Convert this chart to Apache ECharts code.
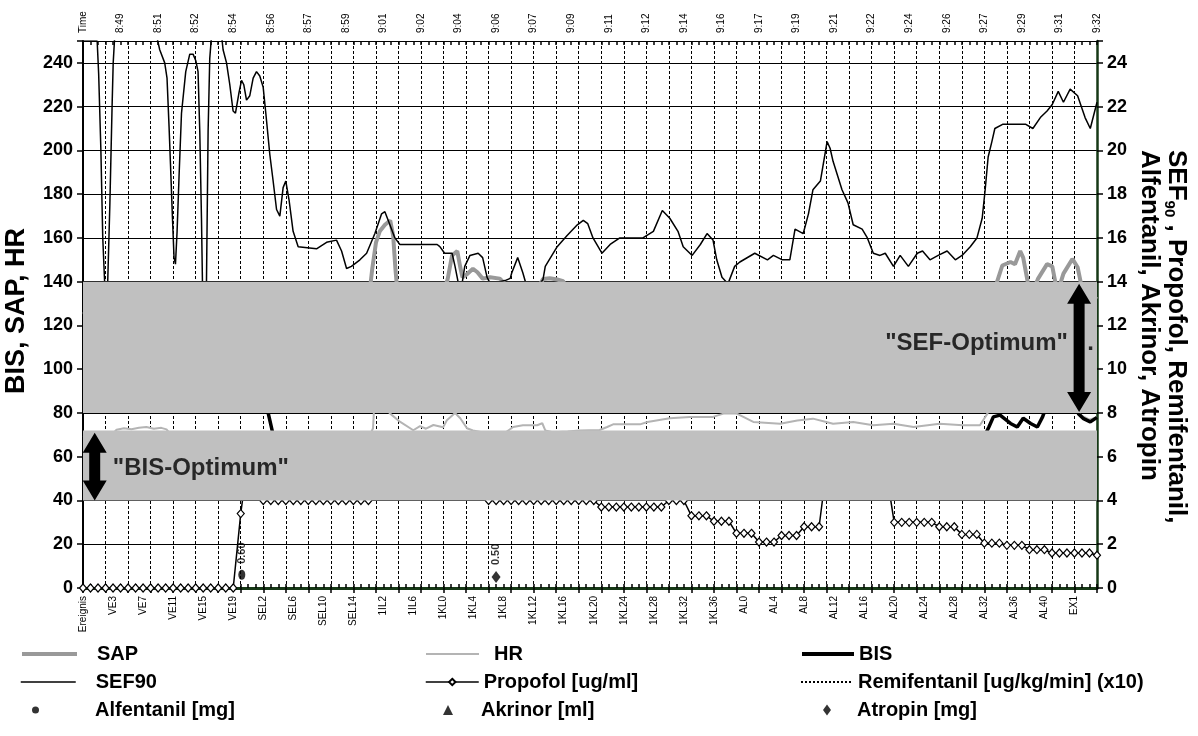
<!DOCTYPE html>
<html><head><meta charset="utf-8">
<script src="https://cdn.jsdelivr.net/npm/echarts@6/dist/echarts.min.js"></script>
<style>html,body{margin:0;padding:0;background:#fff}#c{width:1198px;height:736px}</style>
</head><body><div id="c"></div>
<script>
const FONT = '"Liberation Sans", Arial, sans-serif';

// ---- category labels ----
const eventSegments = [['Ereignis', 1], ['VE', 21], ['SEL', 16], ['1IL', 10], ['1KL', 40], ['AL', 43], ['EX', 5]];
const timeLabels = ['Time','8:49','8:51','8:52','8:54','8:56','8:57','8:59','9:01','9:02','9:04','9:06','9:07','9:09','9:11','9:12','9:14','9:16','9:17','9:19','9:21','9:22','9:24','9:26','9:27','9:29','9:31','9:32'];

// ---- series values (x = time position, 0 = start, 136 = end of record) ----
const sap = [[0,125],[5,130],[10,128],[15,122],[20,118],[25,112],[30,108],[35,115],[38.0,128],[38.5,137],[38.8,146],[39.3,158],[39.8,163],[40.5,166],[41.2,168],[41.6,161],[41.9,146],[42.3,130],[44,120],[47,126],[48.4,136],[48.9,141],[49.5,152],[50.2,154],[50.6,146.6],[50.9,142],[51.6,143.7],[52.3,145.9],[52.9,144.3],[53.6,141.4],[54.6,142],[55.9,141.4],[56.6,139],[57.5,132],[60,133],[61.2,138],[61.7,141.2],[62.6,141.6],[63.6,141],[64.4,140.2],[65,136],[70,125],[80,122],[90,118],[100,120],[110,118],[118,122],[122,134],[122.6,140],[123.3,147.4],[124.4,149],[125.0,148],[125.7,154],[126.1,151],[126.7,140],[127.1,135],[127.7,138],[128.1,141.4],[129.3,148],[130.0,147],[130.4,140],[130.8,136],[131.5,143.7],[132.7,150.4],[133.4,146.6],[133.8,140],[134.4,135],[136,132]];
const hr = [[0,69],[4,70.5],[4.5,72.3],[5.5,73],[6.5,72.6],[7.5,73.2],[8.5,73.6],[9.5,72.8],[10.5,73.2],[11.2,72.5],[11.8,70],[15,68],[20,69],[25,67],[30,68],[35,69],[38.5,70],[38.9,73],[39.1,86],[40,84],[41.2,79.7],[42.5,76],[44.3,72.1],[45.2,74],[46,72.8],[47,74.5],[48.3,73.5],[48.8,76.7],[49.9,80],[50.6,77.6],[51.5,73],[52.3,72],[53.5,71.2],[55,70.8],[56.8,71.4],[57.7,73.6],[59.0,74.4],[60.9,74.4],[61.6,75.3],[62.0,72],[63,71.2],[65,71.5],[66.6,72],[69.3,72.2],[70.3,73.6],[71.1,74.8],[74.7,74.8],[75.7,75.9],[78.7,77.6],[81.4,78.2],[84.5,78.2],[85.9,79.7],[87.7,79.7],[89.9,75.9],[93.5,75.1],[95.8,76.6],[97.9,77.4],[100.6,75.1],[103.3,75.9],[106,74.4],[108.7,75.1],[111.4,73.6],[114.9,75.1],[118,74.4],[120.3,74.4],[121.3,79.7],[122,86],[126,88],[130,90],[133,85],[133.8,79],[135,77],[136,78]];
const bis = [[0,97],[5,96],[10,97],[15,95],[20,94],[23,92],[24.3,88],[24.7,82],[25.1,76],[25.5,70],[26.5,62],[30,58],[40,55],[50,52],[60,50],[70,48],[80,50],[90,47],[100,52],[110,48],[118,52],[120.5,62],[121.0,70],[121.5,73.6],[122.1,78.2],[123.0,79],[124.4,75.2],[125.3,73.6],[126.1,77.6],[127.1,75.2],[128.0,73.6],[128.7,78.2],[129.1,82],[130,90],[132,92],[133.2,84],[133.5,79.7],[134.2,77.4],[135.1,75.9],[136,78]];
const sef90 = [[0,25.0],[1.9,25.0],[2.1,23.5],[2.4,20.0],[2.65,16.0],[2.9,14.0],[3.1,11.0],[3.3,13.8],[3.6,17.5],[3.9,22.0],[4.05,24.0],[4.3,25.5],[5,27],[9.5,27],[9.89,25.2],[10.29,24.6],[10.96,24.0],[11.27,23.3],[11.54,21.1],[11.73,19.4],[12.0,16.9],[12.21,15.1],[12.4,14.8],[12.62,16.3],[12.88,18.8],[13.21,21.7],[13.78,23.6],[14.32,24.4],[14.76,24.4],[15.13,24.1],[15.43,23.6],[15.66,20.9],[15.89,16.9],[16.02,14.0],[16.2,12.0],[16.56,14.0],[16.78,20.9],[17.0,24.2],[17.23,25.2],[17.4,25.3],[18.6,25.2],[18.79,24.6],[19.25,24.0],[19.69,23.0],[20.13,21.8],[20.45,21.7],[20.9,22.6],[21.26,23.2],[21.57,23.0],[21.93,22.3],[22.37,22.5],[22.82,23.3],[23.27,23.6],[23.71,23.4],[24.16,22.9],[24.52,21.7],[25.06,19.8],[25.5,18.6],[25.96,17.3],[26.4,17.0],[26.84,18.3],[27.2,18.6],[27.65,17.7],[28.18,16.3],[28.86,15.6],[31.32,15.5],[32.67,15.8],[34.0,15.9],[34.68,15.4],[35.35,14.6],[36.0,14.7],[37.14,15.0],[38.04,15.3],[39.15,16.2],[40.05,17.1],[40.49,17.2],[41.16,16.6],[41.83,16.0],[42.5,15.7],[47.5,15.7],[47.86,15.6],[48.5,15.3],[49.5,15.3],[49.9,14.7],[50.3,14.0],[50.7,13.6],[51.2,14.7],[51.9,15.2],[53.0,15.3],[53.6,15.1],[54.2,14.2],[54.8,13.8],[55.9,14.0],[56.6,14.05],[57.3,14.15],[57.5,14.4],[58.3,15.1],[59.0,14.4],[59.5,13.8],[60.6,13.6],[61.7,14.1],[62.0,14.7],[63.6,15.6],[64.9,16.1],[66.3,16.6],[67.1,16.8],[67.7,16.65],[68.4,16.0],[69.6,15.3],[70.7,15.7],[72.0,16.0],[75.1,16.0],[76.5,16.3],[77.7,17.25],[78.7,16.9],[79.8,16.3],[80.5,15.6],[81.7,15.2],[82.8,15.7],[83.7,16.2],[84.5,15.9],[85.0,15.0],[85.7,14.2],[86.5,13.9],[87.4,14.7],[88.1,14.9],[90.1,15.3],[91.8,15.0],[92.6,15.2],[93.8,15.0],[94.8,15.0],[95.5,16.4],[96.6,16.2],[97.3,17.1],[97.9,18.2],[98.9,18.6],[99.6,20.0],[99.8,20.4],[100.2,20.1],[100.6,19.5],[101.8,18.2],[102.6,17.6],[103.3,16.6],[104.5,16.4],[105.2,16.0],[106.0,15.3],[106.9,15.2],[107.6,15.3],[108.7,14.7],[109.6,15.2],[110.7,14.7],[111.9,15.3],[112.6,15.4],[113.6,15.0],[114.7,15.2],[115.9,15.4],[117.0,15.0],[117.9,15.2],[119.0,15.6],[119.9,16.0],[120.6,16.9],[121.0,18.2],[121.4,19.7],[121.9,20.4],[122.3,21.0],[123.4,21.2],[125.0,21.2],[126.4,21.2],[127.4,21.0],[128.4,21.5],[129.3,21.8],[130.0,22.1],[130.8,22.7],[131.5,22.2],[132.4,22.8],[133.4,22.5],[134.4,21.5],[135.1,21.0],[136,22.2]];
// propofol: one value per event sample (136)
const propofol = [0,0,0,0,0,0,0,0,0,0,0,0,0,0,0,0,0,0,0,0,0,
  3.4,6.0,5.0,
  4,4,4,4,4,4,4,4,4,4,4,4,4,4,4,
  5,5,5,5,5,5,5,5,5,5,5,5,5,5,5,
  4,4,4,4,4,4,4,4,4,4,4,4,4,4,4,
  3.7,3.7,3.7,3.7,3.7,3.7,3.7,3.7,3.7,
  4,4,4, 3.3,3.3,3.3, 3.05,3.05,3.05, 2.5,2.5,2.5, 2.1,2.1,2.1, 2.4,2.4,2.4, 2.8,2.8,2.8,
  5.5,5.8,6,6,5.8,5.6,5.5,5.4,5.2,
  3,3,3,3,3,3, 2.8,2.8,2.8, 2.45,2.45,2.45, 2.05,2.05,2.05, 1.95,1.95,1.95, 1.75,1.75,1.75,
  1.6,1.6,1.6,1.6,1.6,1.6, 1.5];
const remifentanil = [];
const alfentanil = [[21.3, 0.6]];
const akrinor = [];
const atropin = [[55.4, 0.5]];

// optimum bands (left axis units) and arrows
const bandLow = [40, 80];
const bandHigh = [72, 140];
const arrowT = [1.57, 133.6];
const arrowTop = [71.0, 139.0];
const arrowBottom = [40.0, 80.4];
const annotText = ['"BIS-Optimum"', '"SEF-Optimum"', '.'];
const annotT = [4.0, 132.1, 134.7];
const annotV = [54.5, 112, 112];
const annotSide = ['right', 'left', 'right'];

const events = [];
eventSegments.forEach(([p, n]) => { for (let k = 0; k < n; k++) events.push(p === 'Ereignis' ? p : p + k); });
const times = events.map((e, i) => (i % 5 === 0 && timeLabels[i / 5]) ? timeLabels[i / 5] : '');

const chart = echarts.init(document.getElementById('c'), null, {renderer: 'canvas'});
const GREEN = '#163816';

// legend cells: name, icon left, icon size, text start, row, line style
const legendCells = [
  {name: 'SAP', icon: 20, w: 55, h: 14, text: 95, row: 0, lw: 4, lc: '#999999'},
  {name: 'HR', icon: 425, w: 53, h: 14, text: 493, row: 0, lw: 2, lc: '#b4b4b4'},
  {name: 'BIS', icon: 800, w: 52, h: 14, text: 857, row: 0, lw: 4, lc: '#000'},
  {name: 'SEF90', icon: 20, w: 55, h: 14, text: 95, row: 1, lw: 1.5, lc: '#000'},
  {name: 'Propofol [ug/ml]', icon: 425, w: 53, h: 8, text: 481, row: 1, lw: 1.5, lc: '#000', sym: true},
  {name: 'Remifentanil [ug/kg/min] (x10)', icon: 800, w: 52, h: 14, text: 857, row: 1, lw: 2, lc: '#000', dash: [2, 2]},
  {name: 'Alfentanil [mg]', icon: 32, w: 7, h: 10, text: 95, row: 2, dot: true},
  {name: 'Akrinor [ml]', icon: 443, w: 10, h: 10, text: 481, row: 2, dot: true},
  {name: 'Atropin [mg]', icon: 823, w: 8, h: 11, text: 857, row: 2, dot: true}
];
const rowMid = [656, 684, 712];
const LEG_FS = 20;
const legends = legendCells.map(c => {
  const lg = {
    data: [c.name], left: c.icon, top: rowMid[c.row] - LEG_FS * 0.6, itemWidth: c.w, itemHeight: c.h,
    selectedMode: false, orient: 'horizontal', padding: 0,
    textStyle: {fontFamily: FONT, fontWeight: 'bold', fontSize: LEG_FS, color: '#000',
      padding: [0, 0, 0, Math.max(0, c.text - c.icon - c.w - 5)]}
  };
  if (!c.dot) {
    lg.lineStyle = {width: c.lw, color: c.lc, type: c.dash || 'solid'};
    if (!c.sym) lg.itemStyle = {opacity: 0};
  }
  return lg;
});

const lineBase = {type: 'line', xAxisIndex: 2, symbol: 'none', animation: false, z: 2};
const option = {
  animation: false,
  backgroundColor: '#fff',
  textStyle: {fontFamily: FONT},
  grid: {left: 83, right: 101, top: 41, bottom: 148, containLabel: false},
  legend: legends,
  xAxis: [
    {type: 'category', data: events, boundaryGap: false, position: 'bottom',
      axisLine: {lineStyle: {color: GREEN, width: 2.5}},
      axisTick: {interval: 2, length: 5, lineStyle: {color: '#000', width: 1.5}},
      axisLabel: {interval: 3, rotate: 90, fontSize: 10, color: '#000', margin: 8, fontFamily: FONT},
      splitLine: {show: true, interval: 2, lineStyle: {color: '#000', width: 1, type: [3, 2]}}},
    {type: 'category', data: times, boundaryGap: false, position: 'top',
      axisLine: {lineStyle: {color: GREEN, width: 3}},
      axisTick: {interval: 0, length: 4, lineStyle: {color: '#000', width: 1.5}},
      axisLabel: {interval: 4, rotate: 90, fontSize: 10, color: '#000', margin: 8, fontFamily: FONT},
      splitLine: {show: false}},
    {type: 'value', min: 0, max: 136, show: false},
    {type: 'category', data: times, boundaryGap: false, position: 'top',
      axisLine: {show: false}, axisLabel: {show: false},
      axisTick: {interval: 0, inside: true, length: 4, lineStyle: {color: '#000', width: 1.5}},
      splitLine: {show: false}}
  ],
  yAxis: [
    {type: 'value', min: 0, max: 250, interval: 20, position: 'left',
      axisLine: {show: true, lineStyle: {color: '#000', width: 2}},
      axisTick: {show: true, length: 6, lineStyle: {color: '#000', width: 1.5}},
      axisLabel: {fontSize: 18, fontWeight: 'bold', color: '#000', margin: 10, fontFamily: FONT,
        formatter: v => (v > 240 ? '' : String(v))},
      splitLine: {show: true, lineStyle: {color: '#000', width: 1}}},
    {type: 'value', min: 0, max: 25, interval: 2, position: 'right',
      axisLine: {show: true, lineStyle: {color: GREEN, width: 2.5}},
      axisTick: {show: true, length: 6, lineStyle: {color: '#000', width: 1.5}},
      axisLabel: {fontSize: 18, fontWeight: 'bold', color: '#000', margin: 10, fontFamily: FONT,
        formatter: v => (v > 24 ? '' : String(v))},
      splitLine: {show: false}}
  ],
  graphic: [
    {type: 'text', x: 17, y: 311, rotation: Math.PI / 2,
      style: {text: 'BIS, SAP, HR', font: 'bold 27px ' + FONT, fill: '#000', textAlign: 'center', textVerticalAlign: 'middle'}},
    {type: 'group', x: 1190, y: 150, rotation: -Math.PI / 2, children: [
      {type: 'text', x: 0, y: 0, style: {
        text: '{a|SEF}{s|90}{a| , Propofol, Remifentanil,}', textVerticalAlign: 'top', textAlign: 'left',
        rich: {a: {font: 'bold 26px ' + FONT, fill: '#000', lineHeight: 28},
               s: {font: 'bold 15px ' + FONT, fill: '#000', lineHeight: 28, verticalAlign: 'bottom'}}}},
      {type: 'text', x: 0, y: 28, style: {
        text: 'Alfentanil, Akrinor, Atropin', textVerticalAlign: 'top', textAlign: 'left',
        font: 'bold 26px ' + FONT, fill: '#000'}}
    ]}
  ],
  series: [
    Object.assign({}, lineBase, {name: 'SAP', yAxisIndex: 0, data: sap, lineStyle: {color: '#999999', width: 4}, itemStyle: {color: '#999999'}}),
    Object.assign({}, lineBase, {name: 'HR', yAxisIndex: 0, data: hr, lineStyle: {color: '#b4b4b4', width: 2}, itemStyle: {color: '#b4b4b4'}}),
    Object.assign({}, lineBase, {name: 'BIS', yAxisIndex: 0, data: bis, lineStyle: {color: '#000', width: 3.5}, itemStyle: {color: '#000'}}),
    Object.assign({}, lineBase, {name: 'SEF90', yAxisIndex: 1, data: sef90, lineStyle: {color: '#000', width: 1.5}, itemStyle: {color: '#000'}}),
    {type: 'line', name: 'Propofol [ug/ml]', xAxisIndex: 0, yAxisIndex: 1, data: propofol, z: 3,
      symbol: 'diamond', symbolSize: [7, 8], showAllSymbol: true,
      itemStyle: {color: '#fff', borderColor: '#000', borderWidth: 1.2},
      lineStyle: {color: '#000', width: 1.5}},
    Object.assign({}, lineBase, {name: 'Remifentanil [ug/kg/min] (x10)', yAxisIndex: 1, data: remifentanil,
      lineStyle: {color: '#000', width: 2, type: [2, 2]}, itemStyle: {color: '#000'}}),
    {type: 'scatter', name: 'Alfentanil [mg]', xAxisIndex: 2, yAxisIndex: 1, data: alfentanil, z: 3,
      symbol: 'circle', symbolSize: [7, 10], itemStyle: {color: '#000'},
      label: {show: true, position: 'top', distance: 6, rotate: 90, align: 'left', verticalAlign: 'middle',
        fontSize: 11, fontWeight: 'bold', color: '#000', formatter: p => p.value[1].toFixed(2)}},
    {type: 'scatter', name: 'Akrinor [ml]', xAxisIndex: 2, yAxisIndex: 1, data: akrinor, z: 3,
      symbol: 'triangle', symbolSize: [10, 10], itemStyle: {color: '#000'}},
    {type: 'scatter', name: 'Atropin [mg]', xAxisIndex: 2, yAxisIndex: 1, data: atropin, z: 3,
      symbol: 'diamond', symbolSize: [9, 12], itemStyle: {color: '#000'},
      label: {show: true, position: 'top', distance: 6, rotate: 90, align: 'left', verticalAlign: 'middle',
        fontSize: 11, fontWeight: 'bold', color: '#000', formatter: p => p.value[1].toFixed(2)}},
    {type: 'custom', name: 'bands', xAxisIndex: 2, yAxisIndex: 0, z: 10, silent: true,
      data: bandLow.map((lo, k) => [lo, bandHigh[k]]),
      renderItem: (params, api) => {
        const cs = params.coordSys;
        const yT = api.coord([0, api.value(1)])[1];
        const yB = api.coord([0, api.value(0)])[1];
        return {type: 'rect', shape: {x: cs.x, y: yT, width: cs.width, height: yB - yT}, style: {fill: '#c0c0c0'}};
      }},
    {type: 'custom', name: 'arrows', xAxisIndex: 2, yAxisIndex: 0, z: 11, silent: true,
      data: arrowT.map((t, k) => [t, arrowTop[k], arrowBottom[k]]),
      renderItem: (params, api) => {
        const p1 = api.coord([api.value(0), api.value(1)]);
        const p2 = api.coord([api.value(0), api.value(2)]);
        const x = p1[0], t = p1[1], b = p2[1], hw = 12, hh = 20, sw = 5.5;
        return {type: 'polygon', shape: {points: [[x, t], [x + hw, t + hh], [x + sw, t + hh], [x + sw, b - hh], [x + hw, b - hh], [x, b],
          [x - hw, b - hh], [x - sw, b - hh], [x - sw, t + hh], [x - hw, t + hh]]}, style: {fill: '#000'}};
      }},
    {type: 'scatter', name: 'annotations', xAxisIndex: 2, yAxisIndex: 0, z: 12, silent: true,
      symbolSize: 0,
      data: annotText.map((s, k) => ({name: s, value: [annotT[k], annotV[k]],
        label: {position: annotSide[k]}})),
      label: {show: true, formatter: '{b}', distance: 0, fontSize: 24, fontWeight: 'bold', color: '#000', fontFamily: FONT}}
  ]
};
chart.setOption(option);
</script></body></html>
